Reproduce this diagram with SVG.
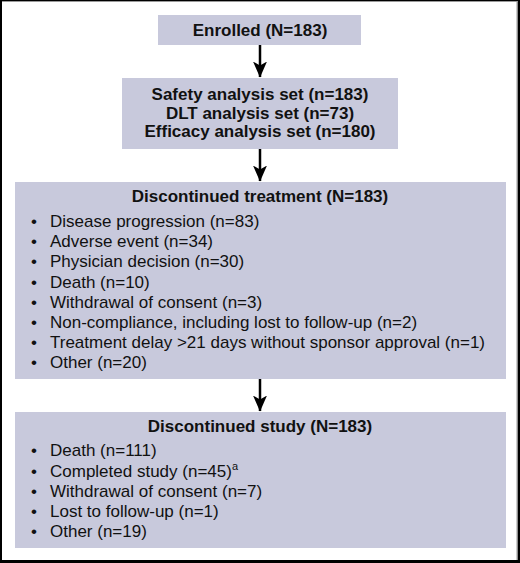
<svg xmlns="http://www.w3.org/2000/svg" width="520" height="563" viewBox="0 0 520 563">
<defs>
<marker id="ah2" markerWidth="14" markerHeight="16" refX="7" refY="15.5" orient="0" markerUnits="userSpaceOnUse" viewBox="0 0 14 16">
<path d="M0,0 L7,4 L14,0 L7,16 Z" fill="#000"/>
</marker>
</defs>
<style>
.box{fill:#c8c9dc;}
.t{font-family:"Liberation Sans",Arial,sans-serif;fill:#111;}
.b{font-weight:bold;font-size:17px;}
.r{font-size:17px;}
.c{text-anchor:middle;}
.conn{stroke:#000;stroke-width:2.5;fill:none;}
</style>
<rect x="0" y="0" width="520" height="563" fill="#000"/>
<rect x="2" y="1" width="515.5" height="559" fill="#fff"/>
<line x1="2" y1="1.5" x2="517.5" y2="1.5" stroke="#9a9a9a" stroke-width="1"/>
<line x1="517" y1="1" x2="517" y2="560" stroke="#9a9a9a" stroke-width="1"/>
<g id="connectors">
<line class="conn" x1="260" y1="45" x2="260" y2="77" marker-end="url(#ah2)"/>
<line class="conn" x1="260" y1="149" x2="260" y2="181" marker-end="url(#ah2)"/>
<line class="conn" x1="260" y1="379" x2="260" y2="411" marker-end="url(#ah2)"/>
</g>
<g id="enrolled">
<rect class="box" x="158" y="15" width="203" height="30"/>
<text class="t b c" x="260" y="36">Enrolled (N=183)</text>
</g>
<g id="analysis">
<rect class="box" x="122" y="78" width="276" height="71"/>
<text class="t b c" x="260" y="100">Safety analysis set (n=183)</text>
<text class="t b c" x="260" y="118.5">DLT analysis set (n=73)</text>
<text class="t b c" x="260" y="137">Efficacy analysis set (n=180)</text>
</g>
<g id="disc-treatment">
<rect class="box" x="15" y="182" width="491" height="197"/>
<text class="t b c" x="260" y="202">Discontinued treatment (N=183)</text>
<g class="t r">
<text x="31" y="227">•</text><text x="50" y="227">Disease progression (n=83)</text>
<text x="31" y="247">•</text><text x="50" y="247">Adverse event (n=34)</text>
<text x="31" y="267">•</text><text x="50" y="267">Physician decision (n=30)</text>
<text x="31" y="287.5">•</text><text x="50" y="287.5">Death (n=10)</text>
<text x="31" y="307.5">•</text><text x="50" y="307.5">Withdrawal of consent (n=3)</text>
<text x="31" y="327.5">•</text><text x="50" y="327.5">Non-compliance, including lost to follow-up (n=2)</text>
<text x="31" y="348">•</text><text x="50" y="348">Treatment delay &gt;21 days without sponsor approval (n=1)</text>
<text x="31" y="368">•</text><text x="50" y="368">Other (n=20)</text>
</g>
</g>
<g id="disc-study">
<rect class="box" x="15" y="412" width="491" height="136"/>
<text class="t b c" x="260" y="432">Discontinued study (N=183)</text>
<g class="t r">
<text x="31" y="456">•</text><text x="50" y="456">Death (n=111)</text>
<text x="31" y="476.5">•</text><text x="50" y="476.5">Completed study (n=45)<tspan font-size="11" dy="-7">a</tspan></text>
<text x="31" y="497">•</text><text x="50" y="497">Withdrawal of consent (n=7)</text>
<text x="31" y="517">•</text><text x="50" y="517">Lost to follow-up (n=1)</text>
<text x="31" y="537">•</text><text x="50" y="537">Other (n=19)</text>
</g>
</g>
</svg>
